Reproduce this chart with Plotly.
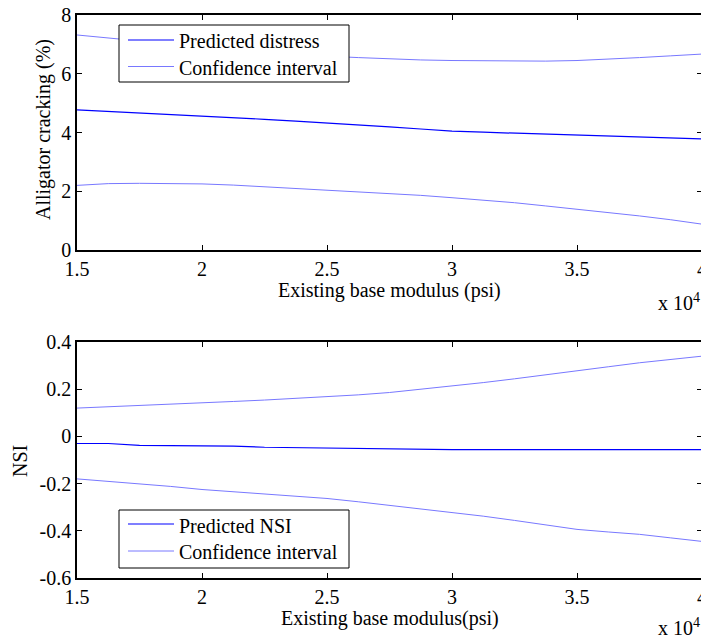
import plotly.graph_objects as go

# ---- data ----
modulus = [15000, 16250, 17500, 18750, 20000, 21250, 22500, 23750, 25000, 26250, 27500,
           28750, 30000, 31250, 32500, 33750, 35000, 36250, 37500, 38750, 40000]

crack_pred = [4.77, 4.72, 4.67, 4.62, 4.57, 4.51, 4.45, 4.39, 4.33, 4.26, 4.19,
              4.12, 4.05, 4.01, 3.98, 3.94, 3.91, 3.88, 3.85, 3.81, 3.78]
crack_upper = [7.32, 7.22, 7.10, 7.00, 6.90, 6.81, 6.73, 6.66, 6.60, 6.55, 6.50,
               6.47, 6.45, 6.44, 6.43, 6.43, 6.45, 6.49, 6.55, 6.61, 6.67]
crack_lower = [2.20, 2.26, 2.27, 2.27, 2.25, 2.21, 2.15, 2.10, 2.04, 1.99, 1.93,
               1.86, 1.78, 1.70, 1.61, 1.50, 1.39, 1.28, 1.16, 1.03, 0.88]

nsi_pred = [-0.030, -0.030, -0.038, -0.038, -0.041, -0.041, -0.046, -0.048, -0.050, -0.052, -0.052,
            -0.056, -0.056, -0.056, -0.056, -0.056, -0.056, -0.056, -0.056, -0.056, -0.056]
nsi_upper = [0.120, 0.125, 0.131, 0.136, 0.142, 0.148, 0.154, 0.161, 0.168, 0.176, 0.186,
             0.199, 0.213, 0.228, 0.244, 0.260, 0.277, 0.295, 0.312, 0.327, 0.340]
nsi_lower = [-0.180, -0.190, -0.200, -0.212, -0.225, -0.234, -0.242, -0.252, -0.263, -0.277, -0.292,
             -0.305, -0.320, -0.338, -0.356, -0.376, -0.394, -0.405, -0.415, -0.430, -0.445]

x_tickvals = [15000, 20000, 25000, 30000, 35000, 40000]
x_ticktext = ["1.5", "2", "2.5", "3", "3.5", "4"]
y1_tickvals = [0, 2, 4, 6, 8]
y1_ticktext = ["0", "2", "4", "6", "8"]
y2_tickvals = [-0.6, -0.4, -0.2, 0, 0.2, 0.4]
y2_ticktext = ["-0.6", "-0.4", "-0.2", "0", "0.2", "0.4"]

legend1_labels = ["Predicted distress", "Confidence interval"]
legend2_labels = ["Predicted NSI", "Confidence interval"]

DARK = "rgb(0,0,255)"
LIGHT = "rgb(120,120,255)"
FONT = "Liberation Serif, Times New Roman, serif"
FS = 20

fig = go.Figure()

fig.add_trace(go.Scatter(x=modulus, y=crack_pred, mode="lines", name=legend1_labels[0],
                         line=dict(color=DARK, width=1.2), xaxis="x", yaxis="y"))
fig.add_trace(go.Scatter(x=modulus, y=crack_upper, mode="lines", name=legend1_labels[1],
                         line=dict(color=LIGHT, width=1), xaxis="x", yaxis="y"))
fig.add_trace(go.Scatter(x=modulus, y=crack_lower, mode="lines", name=legend1_labels[1],
                         line=dict(color=LIGHT, width=1), xaxis="x", yaxis="y"))

fig.add_trace(go.Scatter(x=modulus, y=nsi_pred, mode="lines", name=legend2_labels[0],
                         line=dict(color=DARK, width=1.2), xaxis="x2", yaxis="y2"))
fig.add_trace(go.Scatter(x=modulus, y=nsi_upper, mode="lines", name=legend2_labels[1],
                         line=dict(color=LIGHT, width=1), xaxis="x2", yaxis="y2"))
fig.add_trace(go.Scatter(x=modulus, y=nsi_lower, mode="lines", name=legend2_labels[1],
                         line=dict(color=LIGHT, width=1), xaxis="x2", yaxis="y2"))

# page body has an 8px margin; lay out in page pixels and shift
OFF = 8
W, H = 701, 633
L, R, T, B = 77 - OFF, 7, 15 - OFF, 63
PH = H - T - B
PW = W - L - R


def py(p):
    return (H - B - (p - OFF)) / PH


def px(p):
    return (p - OFF - L) / PW


axis_common = dict(showline=True, linecolor="black", linewidth=1.5, mirror="ticks",
                   ticks="inside", ticklen=5, tickwidth=1, tickcolor="black",
                   showgrid=False, zeroline=False, ticklabeloverflow="allow",
                   automargin=False,
                   tickfont=dict(family=FONT, size=FS, color="black"))

fig.update_layout(
    width=W, height=H,
    margin=dict(l=L, r=R, t=T, b=B, autoexpand=False),
    paper_bgcolor="white", plot_bgcolor="white",
    font=dict(family=FONT, size=FS, color="black"),
    showlegend=False,
    xaxis=dict(domain=[0, 1], anchor="y", range=[15000, 40000],
               tickvals=x_tickvals, ticktext=x_ticktext, **axis_common),
    yaxis=dict(domain=[py(250), 1], anchor="x", range=[0, 8],
               tickvals=y1_tickvals, ticktext=y1_ticktext, **axis_common),
    xaxis2=dict(domain=[0, 1], anchor="y2", range=[15000, 40000],
                tickvals=x_tickvals, ticktext=x_ticktext, **axis_common),
    yaxis2=dict(domain=[0, py(342)], anchor="x2", range=[-0.6, 0.4],
                tickvals=y2_tickvals, ticktext=y2_ticktext, **axis_common),
)

ann_font = dict(family=FONT, size=FS, color="black")
annotations = [
    dict(text="Existing base modulus (psi)", x=0.5, y=py(290)),
    dict(text="x 10<sup>4</sup>", x=1.0, y=py(302), xanchor="right"),
    dict(text="Existing base modulus(psi)", x=0.5, y=py(618)),
    dict(text="x 10<sup>4</sup>", x=1.0, y=py(627), xanchor="right"),
    dict(text="Alligator cracking (%)", x=px(43), y=py(130), textangle=-90),
    dict(text="NSI", x=px(20), y=py(461), textangle=-90),
]

shapes = []


def add_legend(box, rows, labels, colors, widths):
    x0, y0, x1, y1 = box
    shapes.append(dict(type="rect", xref="paper", yref="paper", layer="above",
                       x0=px(x0), x1=px(x1), y0=py(y1), y1=py(y0),
                       line=dict(color="black", width=1), fillcolor="white"))
    for (ly, ty), lab, col, w in zip(rows, labels, colors, widths):
        shapes.append(dict(type="line", xref="paper", yref="paper", layer="above",
                           x0=px(128), x1=px(174), y0=py(ly), y1=py(ly),
                           line=dict(color=col, width=w)))
        annotations.append(dict(text=lab, x=px(177), y=py(ty), xanchor="left"))


add_legend((119, 25, 349, 82), [(40, 41), (66.5, 67.5)], legend1_labels, [DARK, LIGHT], [1.2, 1])
add_legend((119, 510, 349, 568), [(524, 525.5), (551, 552)], legend2_labels, [DARK, LIGHT], [1.2, 1])

for a in annotations:
    a.setdefault("xref", "paper")
    a.setdefault("yref", "paper")
    a.setdefault("xanchor", "center")
    a.setdefault("yanchor", "middle")
    a.setdefault("showarrow", False)
    a.setdefault("font", ann_font)

fig.update_layout(annotations=annotations, shapes=shapes)

fig.write_html("out.html")
